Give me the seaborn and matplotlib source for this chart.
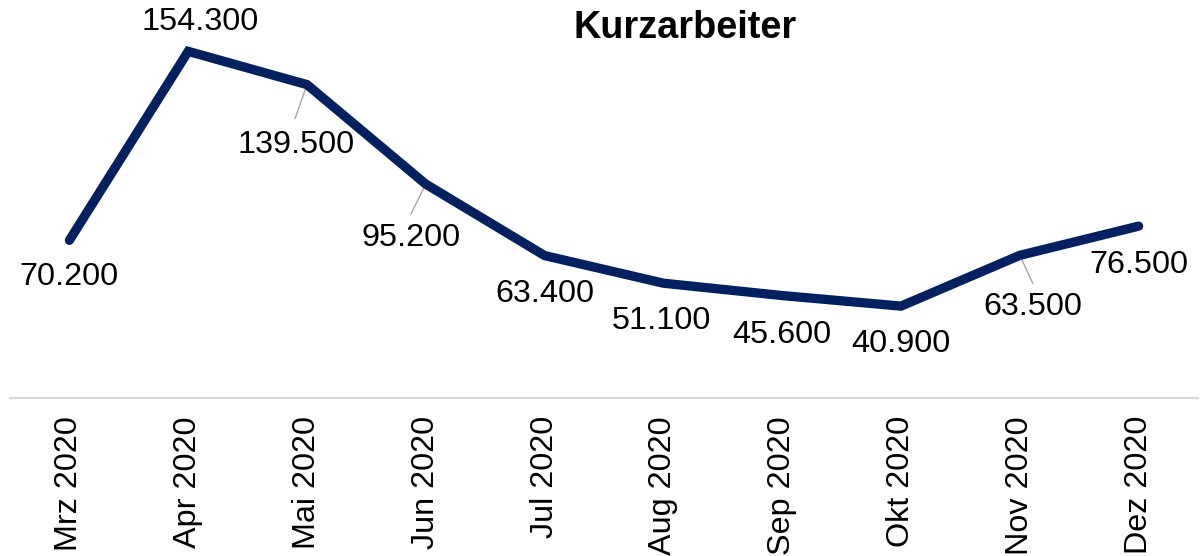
import numpy as np
import pandas as pd
import matplotlib
matplotlib.use('Agg')
import matplotlib.pyplot as plt
import seaborn as sns

# Data
months = ['Mrz 2020', 'Apr 2020', 'Mai 2020', 'Jun 2020', 'Jul 2020',
          'Aug 2020', 'Sep 2020', 'Okt 2020', 'Nov 2020', 'Dez 2020']
kurzarbeiter = [70200, 154300, 139500, 95200, 63400,
                51100, 45600, 40900, 63500, 76500]

# label offsets in pixels (dx, dy) and optional leader line ends
label_offsets = [(0, -37), (12, 29), (-11, -60), (-15, -54), (0, -38),
                 (-2, -38), (0, -39), (0, -38), (13, -52), (0, -39)]
leaders = {2: (-12, -34), 3: (-15, -30), 8: (13, -28)}

LINE_COLOR = '#002060'

sns.set_style('white')
plt.rcParams['font.family'] = ['Liberation Sans', 'DejaVu Sans']

df = pd.DataFrame({'Monat': months, 'Kurzarbeiter': kurzarbeiter})

fig = plt.figure(figsize=(12.03, 5.56), dpi=100)
ax = fig.add_axes([10 / 1203, 158 / 556, 1188 / 1203, 390 / 556])

sns.lineplot(data=df, x='Monat', y='Kurzarbeiter', ax=ax, color=LINE_COLOR,
             linewidth=6.7, sort=False)
for ln in ax.get_lines():
    ln.set_solid_capstyle('round')
    ln.set_solid_joinstyle('miter')

ax.set_xlim(-0.5, len(months) - 0.5)
ax.set_ylim(0, 173600)


def fmt_de(v):
    return f'{v:,}'.replace(',', '.')


for i, v in enumerate(kurzarbeiter):
    if i in leaders:
        ax.annotate('', xy=(i, v), xytext=leaders[i], textcoords='offset pixels',
                    arrowprops=dict(arrowstyle='-', color='#a6a6a6', lw=1,
                                    shrinkA=0, shrinkB=2), zorder=1)
    dx, dy = label_offsets[i]
    ax.annotate(fmt_de(v), xy=(i, v), xytext=(dx, dy), textcoords='offset pixels',
                ha='center', va='center', fontsize=23.3, color='#000000')

for s in ['top', 'left', 'right']:
    ax.spines[s].set_visible(False)
ax.spines['bottom'].set_color('#d9d9d9')
ax.spines['bottom'].set_linewidth(1.5)

ax.set_yticks([])
ax.set_xlabel('')
ax.set_ylabel('')
ax.set_xticks(range(len(months)))
ax.set_xticklabels(months, rotation=90, fontsize=23.3, color='#000000')
ax.tick_params(axis='x', length=0, pad=13)

fig.text(685 / 1203, 1 - 28 / 556, 'Kurzarbeiter', ha='center', va='center',
         fontsize=27.3, fontweight='bold', color='#000000')

fig.savefig('out.png', dpi=100)
plt.close(fig)
